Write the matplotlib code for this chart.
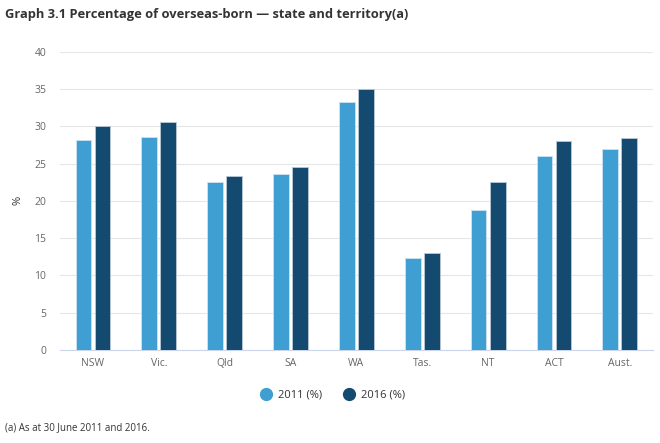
import matplotlib.pyplot as plt
import numpy as np

plt.rcParams['font.family'] = ['Open Sans', 'DejaVu Sans']

states = ['NSW', 'Vic.', 'Qld', 'SA', 'WA', 'Tas.', 'NT', 'ACT', 'Aust.']
pct_2011 = [28.2, 28.6, 22.5, 23.6, 33.3, 12.4, 18.8, 26.0, 26.9]
pct_2016 = [30.1, 30.6, 23.4, 24.5, 35.0, 13.0, 22.6, 28.1, 28.5]
series_labels = ['2011 (%)', '2016 (%)']

c_2011 = '#3f9fd3'
c_2016 = '#144a70'

fig = plt.figure(figsize=(6.6, 4.43), dpi=100)
ax = fig.add_axes([0.091, 0.21, 0.898, 0.673])

x = np.arange(len(states))
width = 0.24
gap = 0.05
ax.bar(x - (width + gap) / 2, pct_2011, width=width, color=c_2011,
       edgecolor='#cfe3f2', linewidth=0.6, zorder=3)
ax.bar(x + (width + gap) / 2, pct_2016, width=width, color=c_2016,
       edgecolor='#b9c8d6', linewidth=0.6, zorder=3)

ax.set_xlim(-0.5, len(states) - 0.5)
ax.set_ylim(0, 40)
ax.set_yticks(range(0, 41, 5))
ax.set_xticks(x, states)
ax.yaxis.grid(True, color='#e6e6e6', linewidth=0.8, zorder=0)
for s in ['top', 'right', 'left']:
    ax.spines[s].set_visible(False)
ax.spines['bottom'].set_color('#ccd6eb')
ax.tick_params(axis='both', length=0, labelsize=7.5, colors='#666666')
ax.tick_params(axis='x', pad=6)
ax.tick_params(axis='y', pad=10)
ax.set_ylabel('%', fontsize=8, color='#333333', labelpad=8)

fig.text(0.008, 0.968, 'Graph 3.1 Percentage of overseas-born \u2014 state and territory(a)',
         fontsize=9.3, fontweight='bold', color='#333333', va='center')

handles = [plt.Line2D([], [], marker='o', linestyle='', markersize=8.5, color=c)
           for c in (c_2011, c_2016)]
fig.legend(handles, series_labels, loc='center', bbox_to_anchor=(0.5, 0.108),
           ncol=2, frameon=False, fontsize=8, handletextpad=0.1,
           columnspacing=1.4, labelcolor='#333333')

fig.text(0.008, 0.035, '(a) As at 30 June 2011 and 2016.', fontsize=7,
         color='#333333', va='center')

fig.savefig('out.png', dpi=100)
